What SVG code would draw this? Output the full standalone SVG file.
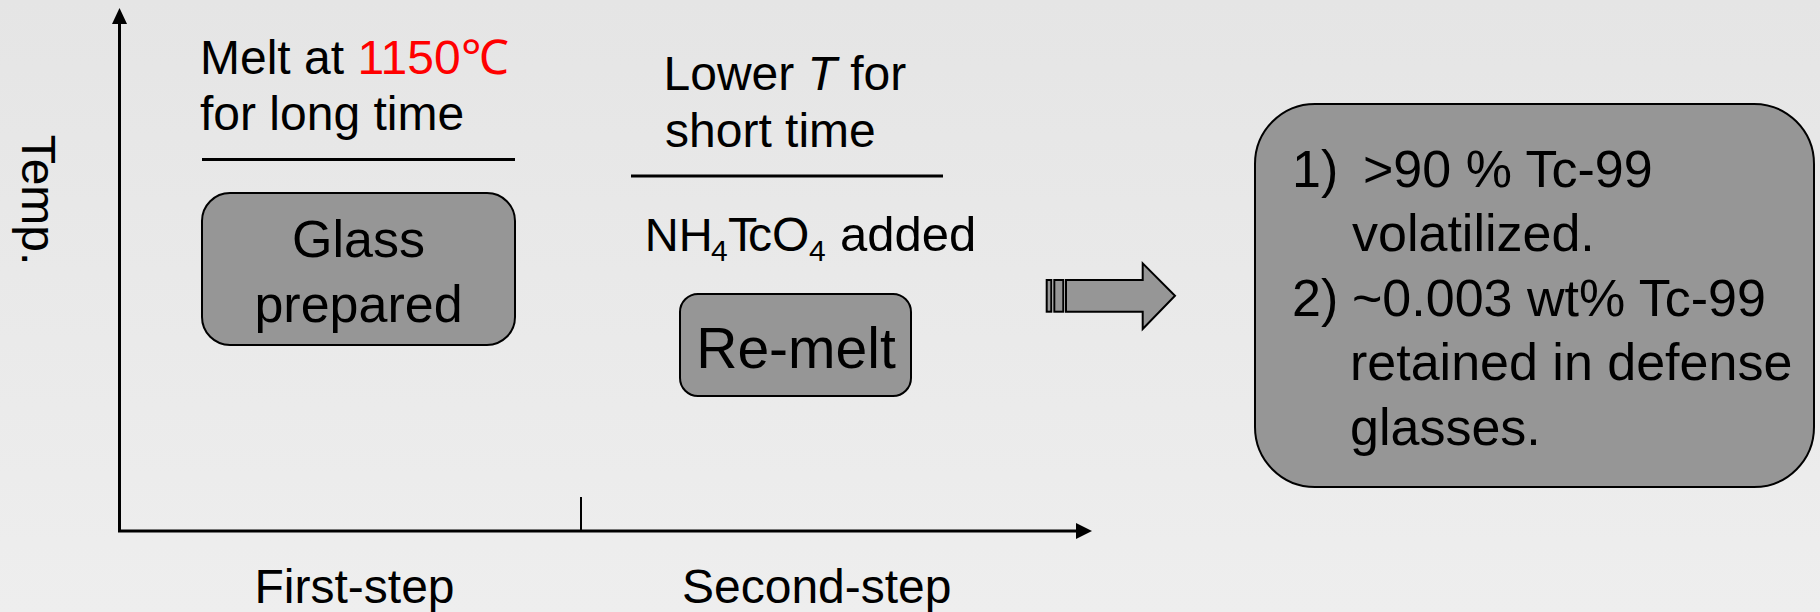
<svg xmlns="http://www.w3.org/2000/svg" width="1820" height="612" viewBox="0 0 1820 612">
  <defs>
    <linearGradient id="bg" x1="0" y1="0" x2="0" y2="1">
      <stop offset="0" stop-color="#e5e5e5"/>
      <stop offset="1" stop-color="#eeeeee"/>
    </linearGradient>
  </defs>
  <style>
    text { font-family: "Liberation Sans", Arial, sans-serif; fill: #000; }
    .lbl { font-size: 48px; }
    .box { fill: #969696; stroke: #000; stroke-width: 2; }
    .axis { stroke: #000; stroke-width: 3; fill: none; }
    .head { fill: #000; }
    .rule { stroke: #000; stroke-width: 3; }
    .hot { fill: #ff0000; }
    .sub { font-size: 30px; }
  </style>

  <rect width="1820" height="612" fill="url(#bg)"/>

  <!-- axes -->
  <g id="axes">
    <line class="axis" x1="119.5" y1="531" x2="119.5" y2="20"/>
    <polygon class="head" points="112,24 119.5,8 127,24"/>
    <line class="axis" x1="118" y1="531" x2="1080" y2="531"/>
    <polygon class="head" points="1076,523 1092,531 1076,539"/>
    <line stroke="#000" stroke-width="2" x1="581" y1="497" x2="581" y2="531"/>
    <text class="lbl" transform="translate(21.5,200) rotate(90)" text-anchor="middle">Temp.</text>
    <text class="lbl" x="254.5" y="603">First-step</text>
    <text class="lbl" x="682" y="603">Second-step</text>
  </g>

  <!-- first step -->
  <g id="step1-condition">
    <text class="lbl" x="200" y="74">Melt at <tspan class="hot">1150℃</tspan></text>
    <text class="lbl" x="200" y="130">for long time</text>
    <line class="rule" x1="202" y1="159.5" x2="515" y2="159.5"/>
  </g>
  <g id="glass-prepared">
    <rect class="box" x="202" y="193" width="313" height="152" rx="28" ry="28"/>
    <text x="358.5" y="257" font-size="52" text-anchor="middle">Glass</text>
    <text x="358.5" y="322" font-size="52" text-anchor="middle">prepared</text>
  </g>

  <!-- second step -->
  <g id="step2-condition">
    <text class="lbl" x="663.5" y="90">Lower <tspan font-style="italic">T</tspan> for</text>
    <text class="lbl" x="665" y="147">short time</text>
    <line class="rule" x1="631" y1="176" x2="943" y2="176"/>
    <text class="lbl" y="250.5"><tspan x="644.7" font-size="47">NH</tspan><tspan class="sub" x="711" y="261">4</tspan><tspan x="728" y="250.5">T</tspan><tspan dx="-4">cO</tspan><tspan class="sub" x="809" y="261">4</tspan><tspan x="840" y="250.5" font-size="49">added</tspan></text>
  </g>
  <g id="re-melt">
    <rect class="box" x="680" y="294" width="231" height="102" rx="18" ry="18"/>
    <text x="796" y="368" font-size="57" text-anchor="middle">Re-melt</text>
  </g>

  <!-- block arrow -->
  <g id="connectors">
    <rect class="box" x="1046.7" y="280" width="4.6" height="31.7" stroke-width="1.5"/>
    <rect class="box" x="1054.3" y="280" width="9" height="31.7" stroke-width="1.5"/>
    <polygon class="box" stroke-width="1.5" points="1066,280 1142.7,280 1142.7,263.3 1175,295.7 1142.7,329 1142.7,311.7 1066,311.7"/>
  </g>

  <!-- outcome -->
  <g id="result">
    <rect class="box" x="1255" y="104" width="559" height="383" rx="60" ry="60"/>
    <g font-size="52">
      <text x="1292" y="186.5">1)</text>
      <text x="1363" y="186.5">&gt;90 % Tc-99</text>
      <text x="1352" y="251">volatilized.</text>
      <text x="1292" y="315.5">2)</text>
      <text x="1352" y="315.5">~0.003 wt% Tc-99</text>
      <text x="1350" y="380">retained in defense</text>
      <text x="1350" y="445">glasses.</text>
    </g>
  </g>
</svg>
